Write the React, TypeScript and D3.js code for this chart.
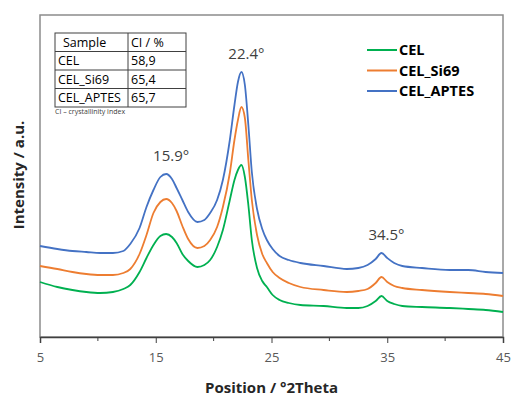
import * as d3 from "d3";
import { useEffect, useRef } from "react";

// --- data ---
const positions = [
  5, 6.5, 7.8, 9, 10.2, 11.3, 12.2, 12.8, 13.6, 14.2,
  14.8, 15.4, 15.9, 16.4, 16.8, 17.3, 17.8, 18.6, 19.2, 19.7,
  20.3, 20.8, 21.4, 21.8, 22.1, 22.4, 22.7, 23.0, 23.3, 23.75,
  24.2, 24.6, 25.1, 25.7, 26.5, 27.5, 29.5, 31.5, 32.5, 33.3,
  34.0, 34.5, 35.0, 35.6, 36.3, 38, 40.4, 42, 43.5, 45,
];

const celValues = [
  550, 500, 470, 450, 440, 450, 480, 520, 650, 790,
  920, 1010, 1030, 1000, 940, 830, 760, 700, 720, 770,
  900, 1070, 1370, 1570, 1670, 1720, 1600, 1320, 970, 690,
  560, 500, 420, 370, 340, 320, 310, 290, 290, 310,
  360, 410, 360, 330, 310, 300, 290, 280, 270, 250,
];

const si69Values = [
  710, 680, 650, 630, 620, 620, 640, 680, 830, 1020,
  1240, 1350, 1380, 1340, 1260, 1110, 980, 890, 910, 970,
  1100, 1300, 1640, 1970, 2170, 2300, 2190, 1770, 1370, 1020,
  830, 740, 650, 590, 540, 500, 470, 450, 460, 480,
  540, 600, 550, 510, 490, 470, 450, 440, 430, 410,
];

const aptesValues = [
  910, 880, 860, 850, 840, 840, 860, 930, 1090, 1300,
  1470, 1600, 1630, 1580, 1490, 1370, 1250, 1150, 1170, 1240,
  1370, 1570, 1970, 2320, 2550, 2650, 2520, 2120, 1650, 1280,
  1080, 970, 880, 810, 770, 740, 710, 680, 690, 720,
  780, 840, 790, 740, 710, 690, 670, 670, 650, 640,
];

const seriesNames = ["CEL", "CEL_Si69", "CEL_APTES"];
const seriesColors = ["#00b050", "#ed7d31", "#4472c4"];

const xTicks = [5, 15, 25, 35, 45];
const xMinorTicks = [10, 20, 30, 40];

const peakLabels = ["15.9°", "22.4°", "34.5°"];
const peakPositions = [15.9, 22.4, 34.5];

const tableHeader = ["Sample", "CI / %"];
const tableSamples = ["CEL", "CEL_Si69", "CEL_APTES"];
const tableCI = ["58,9", "65,4", "65,7"];

export default function App() {
  const svgRef = useRef<SVGSVGElement | null>(null);
  useEffect(() => {
    if (!svgRef.current) return;
    drawChart(svgRef.current);
  }, []);
  return (
    <svg
      ref={svgRef}
      width={513}
      height={397}
      style={{ position: "absolute", left: 0, top: 0, background: "#fff" }}
    />
  );
}

function drawChart(svgElement: SVGSVGElement) {
  const svg = d3.select(svgElement);
  svg.selectAll("*").remove();

  const font = "'Open Sans', sans-serif";
  const margin = { top: 15, right: 10, bottom: 60, left: 40 };
  const width = 513 - margin.left - margin.right;
  const height = 397 - margin.top - margin.bottom;

  const chart = svg
    .append("g")
    .attr("transform", `translate(${margin.left},${margin.top})`);

  // --- scales ---
  const x = d3.scaleLinear().domain([5, 45]).range([0, width]);
  const y = d3.scaleLinear().domain([0, 3220]).range([height, 0]);

  // plot area frame
  chart
    .append("rect")
    .attr("width", width)
    .attr("height", height)
    .attr("fill", "none")
    .attr("stroke", "#8c8c8c")
    .attr("stroke-width", 1.5);

  // --- lines ---
  const all = [celValues, si69Values, aptesValues];
  const line = d3
    .line<number>()
    .x((_, i) => x(positions[i]))
    .y(d => y(d))
    .curve(d3.curveMonotoneX);

  chart
    .selectAll(".series")
    .data(all)
    .join("path")
    .attr("class", "series")
    .attr("d", d => line(d))
    .attr("fill", "none")
    .attr("stroke", (_, i) => seriesColors[i])
    .attr("stroke-width", 1.8)
    .attr("stroke-linejoin", "round");

  // --- x axis ---
  const xAxis = chart
    .append("g")
    .attr("transform", `translate(0, ${height})`)
    .call(
      d3.axisBottom(x)
        .tickValues(xTicks)
        .tickSize(6)
        .tickPadding(10)
        .tickFormat(d3.format("d"))
    );
  xAxis.select(".domain").attr("stroke", "#404040").attr("stroke-width", 1.5);
  xAxis.selectAll("line").attr("stroke", "#404040");
  xAxis
    .selectAll("text")
    .style("font-size", "13px")
    .style("font-family", font)
    .style("fill", "#595959");

  chart
    .append("g")
    .attr("transform", `translate(0, ${height})`)
    .selectAll("line")
    .data(xMinorTicks)
    .join("line")
    .attr("x1", d => x(d))
    .attr("x2", d => x(d))
    .attr("y1", 0)
    .attr("y2", 4)
    .attr("stroke", "#404040");

  // --- axis titles ---
  svg
    .append("text")
    .attr("x", margin.left + width / 2)
    .attr("y", 393)
    .attr("text-anchor", "middle")
    .style("font-family", font)
    .style("font-size", "15px")
    .style("font-weight", "bold")
    .style("fill", "#262626")
    .text("Position / °2Theta");

  svg
    .append("text")
    .attr("transform", `translate(24, 175) rotate(-90)`)
    .attr("text-anchor", "middle")
    .style("font-family", font)
    .style("font-size", "15px")
    .style("font-weight", "bold")
    .style("fill", "#262626")
    .text("Intensity / a.u.");

  // --- peak labels (placed above the APTES curve) ---
  const aptesAt = (p: number) => aptesValues[positions.indexOf(p)];
  chart
    .selectAll(".peak")
    .data(peakPositions)
    .join("text")
    .attr("class", "peak")
    .attr("x", d => x(d) + 5)
    .attr("y", d => y(aptesAt(d)) - 13)
    .attr("text-anchor", "middle")
    .style("font-family", font)
    .style("font-size", "15px")
    .style("fill", "#404040")
    .text((_, i) => peakLabels[i]);

  // --- legend ---
  const legend = svg.append("g").attr("transform", "translate(367, 50)");
  const rows = legend
    .selectAll("g")
    .data(seriesNames)
    .join("g")
    .attr("transform", (_, i) => `translate(0, ${i * 20.5})`);
  rows
    .append("line")
    .attr("x1", 0)
    .attr("x2", 30)
    .attr("stroke", (_, i) => seriesColors[i])
    .attr("stroke-width", 2);
  rows
    .append("text")
    .attr("x", 32)
    .attr("dy", "0.35em")
    .style("font-family", font)
    .style("font-size", "14.5px")
    .style("font-weight", "bold")
    .style("fill", "#000")
    .text(d => d);

  // --- table ---
  const tbl = svg.append("g").attr("transform", "translate(55, 33)");
  const colX = [0, 73, 131];
  const rowH = 18.5;
  const tableRows = [tableHeader, ...tableSamples.map((s, i) => [s, tableCI[i]])];
  tbl
    .append("rect")
    .attr("width", colX[2])
    .attr("height", rowH * tableRows.length)
    .attr("fill", "#fff")
    .attr("stroke", "#404040");
  tbl
    .selectAll(".hline")
    .data(d3.range(1, tableRows.length))
    .join("line")
    .attr("class", "hline")
    .attr("x1", 0)
    .attr("x2", colX[2])
    .attr("y1", d => d * rowH)
    .attr("y2", d => d * rowH)
    .attr("stroke", "#404040");
  tbl
    .append("line")
    .attr("x1", colX[1])
    .attr("x2", colX[1])
    .attr("y1", 0)
    .attr("y2", rowH * tableRows.length)
    .attr("stroke", "#404040");
  tableRows.forEach((r, i) => {
    r.forEach((cell, j) => {
      tbl
        .append("text")
        .attr("x", colX[j] + (i === 0 && j === 0 ? 8 : 3))
        .attr("y", i * rowH + rowH / 2)
        .attr("dy", "0.36em")
        .style("font-family", font)
        .style("font-size", "12.5px")
        .style("fill", "#000")
        .text(cell);
    });
  });
  tbl
    .append("text")
    .attr("x", 0)
    .attr("y", rowH * tableRows.length + 7)
    .style("font-family", font)
    .style("font-size", "7px")
    .style("fill", "#404040")
    .text("CI – crystallinity index");
}
